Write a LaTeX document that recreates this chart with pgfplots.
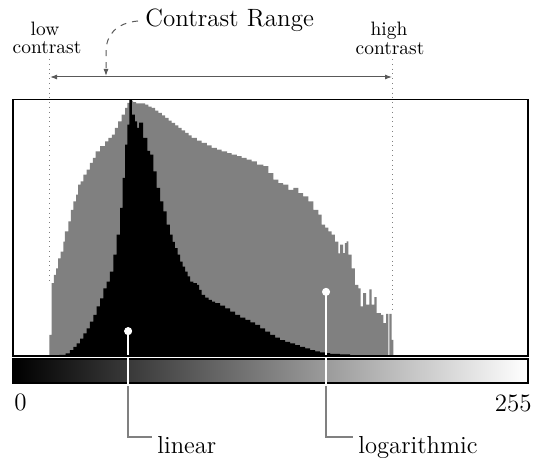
\documentclass[border=0pt]{standalone}
\usepackage{pgfplots}
\pgfplotsset{compat=1.18}
\usetikzlibrary{arrows.meta}

\begin{document}
\begin{tikzpicture}
% frame in pixels of the reference (origin top left, y down)
\begin{scope}[x=0.5pt,y=-0.5pt]
  \path[use as bounding box] (0,0) rectangle (534,459);
  % grey-level bar
  \shade[left color=black, right color=white] (13,359) rectangle (528,383);
  \draw[line width=0.7pt] (13,359) rectangle (528,383);
\end{scope}

\begin{axis}[
    at={(6.5pt,-178pt)}, anchor=south west,
    scale only axis,
    width=257.5pt, height=128.25pt,
    xmin=0, xmax=255, ymin=0, ymax=1,
    xtick=\empty, ytick=\empty,
    axis line style={line width=0.9pt},
    axis on top,
    clip=false,
]
% logarithmic histogram
\addplot[const plot, fill=gray, draw=none] coordinates {
(0,0) (18.0,0.082) (19.1,0.284) (20.3,0.316) (21.3,0.342) (22.4,0.381)
(23.6,0.407) (24.9,0.446) (25.7,0.486) (27.4,0.525) (28.6,0.570) (29.9,0.603)
(31.2,0.629) (32.3,0.668) (33.5,0.681) (34.8,0.707) (36.5,0.727) (38.1,0.753)
(39.5,0.772) (40.9,0.798) (43.1,0.818) (45.6,0.837) (47.2,0.850) (48.9,0.863)
(50.5,0.889) (52.1,0.915) (53.8,0.941) (55.5,0.967) (56.6,0.987) (57.9,0.996)
(59.5,0.990) (61.0,0.985) (63.0,0.985) (65.4,0.980) (67.0,0.972) (68.7,0.967)
(70.4,0.957) (72.0,0.948) (73.7,0.938) (75.3,0.928) (77.0,0.918) (78.6,0.909)
(80.3,0.899) (81.9,0.889) (83.5,0.880) (85.2,0.870) (86.9,0.860) (88.5,0.850)
(91.0,0.840) (93.4,0.831) (96.0,0.821) (98.4,0.811) (101.0,0.805) (103.3,0.798)
(106.0,0.791) (108.3,0.785) (110.8,0.779) (113.2,0.772) (115.7,0.766) (118.2,0.759)
(120.7,0.746) (124.0,0.740) (126.4,0.713) (128.9,0.688) (131.4,0.674) (133.8,0.668)
(136.3,0.648) (138.8,0.655) (141.3,0.635) (143.7,0.622) (146.2,0.603) (148.7,0.570)
(151.2,0.551) (152.8,0.512) (154.5,0.500) (156.1,0.486) (157.8,0.473) (159.4,0.446)
(161.1,0.400) (162.0,0.434) (163.5,0.401) (164.3,0.440) (165.2,0.447) (166.0,0.395)
(167.7,0.342) (169.3,0.277) (171.0,0.264) (172.1,0.193) (173.4,0.245) (174.8,0.200)
(176.4,0.260) (177.6,0.200) (178.9,0.230) (180.1,0.167) (182.1,0.160) (183.4,0.128)
(184.7,0.164) (185.9,0) (186.4,0.164) (187.5,0.0625) (188.3,0) (255,0)
} \closedcycle;
% linear histogram
\addplot[const plot, fill=black, draw=none] coordinates {
(0,0) (23.0,0.004) (26.0,0.010) (28.2,0.023) (29.9,0.036) (31.5,0.049) (33.2,0.068)
(34.8,0.088) (36.5,0.108) (38.1,0.134) (39.8,0.160) (41.4,0.193) (43.1,0.225)
(44.7,0.264) (46.4,0.290) (48.0,0.329) (49.7,0.395) (51.3,0.473) (53.0,0.577)
(54.3,0.694) (55.5,0.824) (56.6,0.902) (57.6,1.000) (58.9,0.941) (60.3,0.915)
(61.5,0.889) (62.5,0.910) (64.4,0.850) (66.5,0.800) (67.9,0.785) (69.5,0.720)
(71.1,0.655) (72.8,0.603) (74.4,0.564) (76.1,0.512) (77.7,0.473) (79.0,0.445)
(80.2,0.421) (81.5,0.395) (82.7,0.368) (84.0,0.348) (85.2,0.329) (86.5,0.310)
(87.7,0.290) (89.3,0.284) (91.0,0.277) (92.2,0.258) (93.4,0.238) (95.1,0.228)
(96.8,0.219) (98.5,0.212) (100.1,0.206) (102.5,0.196) (105.0,0.186) (107.5,0.173)
(110.0,0.160) (112.5,0.150) (115.0,0.141) (117.5,0.131) (119.9,0.121) (122.3,0.108)
(124.8,0.095) (127.3,0.082) (129.8,0.072) (132.2,0.062) (134.7,0.055) (137.2,0.049)
(139.7,0.042) (142.1,0.036) (144.6,0.030) (147.1,0.023) (149.6,0.018) (152.0,0.014)
(154.5,0.011) (157.0,0.008) (161.9,0.006) (166.9,0.003) (168.0,0) (255,0)
} \closedcycle;
% callout lines and dots
\addplot[white, line width=0.8pt] coordinates {(57.0,0.097) (57.0,-0.109)};
\addplot[white, line width=0.8pt] coordinates {(155.0,0.250) (155.0,-0.109)};
\addplot[only marks, mark=*, mark size=1.8pt, white] coordinates {(57.0,0.097) (155.0,0.250)};
\end{axis}

\begin{scope}[x=0.5pt,y=-0.5pt]
  % contrast limits
  \draw[gray, dotted, line width=0.4pt] (49,59) -- (49,282);
  \draw[gray, dotted, line width=0.4pt] (392,59) -- (392,312);
  \draw[{Latex[length=3.5pt,width=2.5pt]}-{Latex[length=3.5pt,width=2.5pt]}, line width=0.5pt, black!65]
    (50,77) -- (392,77);
  \draw[dashed, black!65, line width=0.5pt, -{Latex[length=3.5pt,width=2.5pt]}]
    (138,21) .. controls (116,23) and (106,35) .. (106,52) -- (106,76);
  \node[anchor=base west, inner sep=0pt, font=\fontsize{12.5}{14}\selectfont] at (145,27) {Contrast Range};
  \node[anchor=base, inner sep=0pt, font=\fontsize{9.7}{11}\selectfont] at (45,36) {low};
  \node[anchor=base, inner sep=0pt, font=\fontsize{9.7}{11}\selectfont] at (47,54) {contrast};
  \node[anchor=base, inner sep=0pt, font=\fontsize{9.7}{11}\selectfont] at (389,36) {high};
  \node[anchor=base, inner sep=0pt, font=\fontsize{9.7}{11}\selectfont] at (390,55) {contrast};
  % grey-level ends
  \node[anchor=base west, inner sep=0pt, font=\fontsize{12.5}{14}\selectfont] at (14,410) {0};
  \node[anchor=base east, inner sep=0pt, font=\fontsize{12.5}{14}\selectfont] at (532,411) {255};
  % callouts
  \draw[gray, line width=0.6pt] (128,386) -- (128,437) -- (152,437);
  \draw[gray, line width=0.6pt] (326,386) -- (326,437) -- (353,437);
  \node[anchor=base west, inner sep=0pt, font=\fontsize{12.3}{14}\selectfont] at (157,453) {linear};
  \node[anchor=base west, inner sep=0pt, font=\fontsize{12.3}{14}\selectfont] at (358,453) {logarithmic};
\end{scope}
\end{tikzpicture}
\end{document}
